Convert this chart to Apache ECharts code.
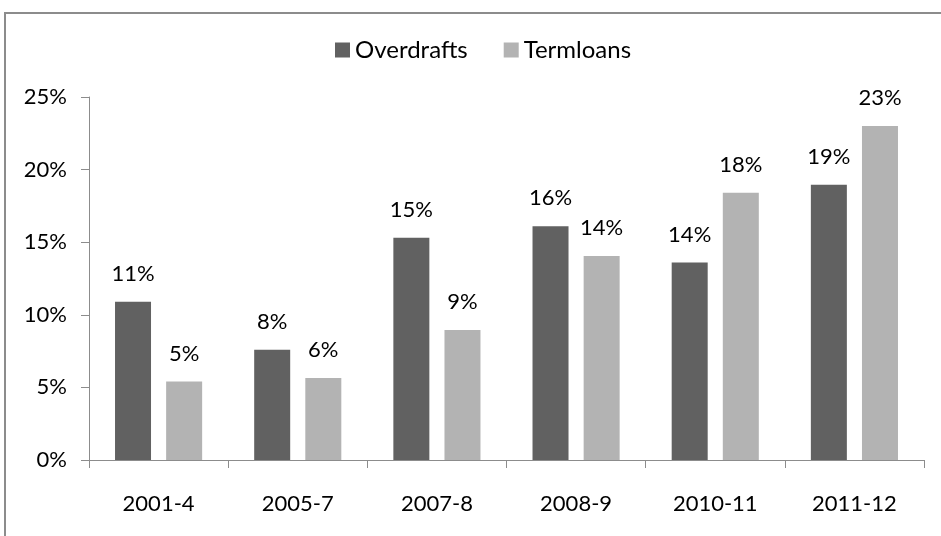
<!DOCTYPE html>
<html>
<head>
<meta charset="utf-8">
<script src="https://cdn.jsdelivr.net/npm/echarts@6/dist/echarts.min.js"></script>
<style>
  html, body { margin: 0; padding: 0; background: #fff; }
  #chart { width: 941px; height: 536px; }
</style>
</head>
<body>
<div id="chart"></div>
<script>
var categories = ["2001-4", "2005-7", "2007-8", "2008-9", "2010-11", "2011-12"];
var overdrafts = [10.9, 7.6, 15.3, 16.1, 13.6, 18.95];
var termloans = [5.4, 5.65, 8.95, 14.05, 18.4, 23.0];
var seriesNames = ["Overdrafts", "Termloans"];
var colorArr = ["#616161", "#b3b3b3"];

var fontFamily = "Lato, 'Open Sans', sans-serif";
var axisColor = "#8c8c8c";

var labelOpt = {
  show: true,
  position: "top",
  distance: 17,
  color: "#000",
  fontSize: 22,
  fontFamily: fontFamily,
  formatter: function (p) {
    return Math.round(p.value) + "%";
  },
};

var chart = echarts.init(document.getElementById("chart"));
var option = {
  animation: false,
  color: colorArr,
  textStyle: { fontFamily: fontFamily },
  graphic: [
    {
      type: "rect",
      shape: { x: 5, y: 13, width: 1000, height: 1000 },
      style: { fill: "none", stroke: "#8c8c8c", lineWidth: 2 },
      silent: true,
    },
  ],
  legend: {
    data: seriesNames,
    top: 33,
    left: 330,
    itemWidth: 15,
    itemHeight: 15,
    itemGap: 36,
    icon: "rect",
    textStyle: { color: "#000", fontSize: 24, fontFamily: fontFamily },
  },
  grid: { left: 89, right: 17, top: 97, bottom: 76 },
  xAxis: {
    type: "category",
    data: categories,
    axisLine: { lineStyle: { color: axisColor } },
    axisTick: { show: true, length: 8, lineStyle: { color: axisColor } },
    axisLabel: { margin: 33, color: "#000", fontSize: 22, fontFamily: fontFamily },
  },
  yAxis: {
    type: "value",
    min: 0,
    max: 25,
    interval: 5,
    axisLine: { show: true, lineStyle: { color: axisColor } },
    axisTick: { show: true, length: 8, lineStyle: { color: axisColor } },
    splitLine: { show: false },
    axisLabel: {
      margin: 22,
      color: "#000",
      fontSize: 22,
      fontFamily: fontFamily,
      formatter: "{value}%",
    },
  },
  series: [
    {
      name: seriesNames[0],
      type: "bar",
      data: overdrafts,
      barWidth: 36,
      barGap: "42%",
      label: labelOpt,
    },
    {
      name: seriesNames[1],
      type: "bar",
      data: termloans,
      barWidth: 36,
      label: labelOpt,
    },
  ],
};
chart.setOption(option);
</script>
</body>
</html>
